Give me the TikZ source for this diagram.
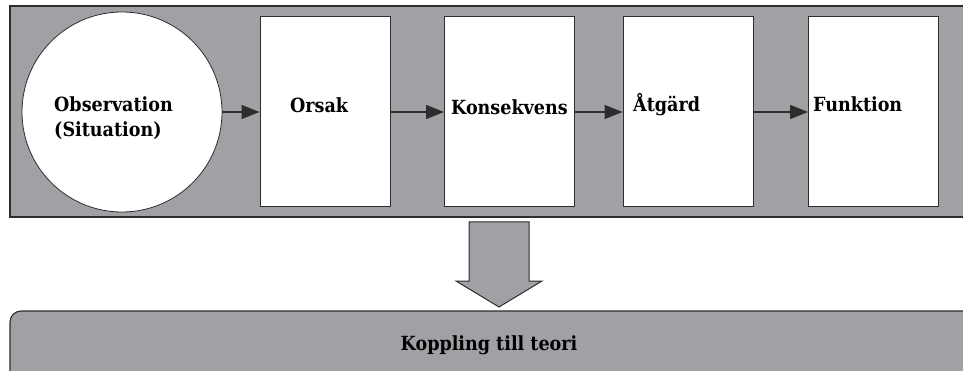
\documentclass[tikz,border=0pt]{standalone}
\usepackage{fontspec}
\setmainfont{DejaVu Serif Condensed}
\usetikzlibrary{arrows.meta}
\definecolor{panelgray}{RGB}{160,160,165}
\definecolor{edgegray}{RGB}{45,45,45}
\begin{document}
\begin{tikzpicture}[x=1pt,y=-1pt,
  panel/.style={draw=edgegray,fill=panelgray,line width=1.1pt},
  stepbox/.style={draw=edgegray,fill=white,line width=1pt,minimum width=130pt,minimum height=190pt,inner sep=0pt},
  stepcircle/.style={draw=edgegray,fill=white,line width=0.8pt,circle,minimum size=200pt,inner sep=0pt},
  label/.style={font=\bfseries\fontsize{19.5}{24}\selectfont,inner sep=0pt,anchor=base west,text=black},
  flow/.style={draw=edgegray,line width=1.2pt,-{Triangle[length=18pt,width=14pt]}}]
  \clip (0,0) rectangle (963,371);
  \fill[white] (0,0) rectangle (963,371);
  % upper panel holding the chain of steps
  \draw[panel] (10,6) rectangle (980,217);
  % chain of steps
  \node[stepcircle] (obs) at (122,112) {};
  \node[stepbox] (orsak) at (325,112) {};
  \node[stepbox] (kons) at (509.5,112) {};
  \node[stepbox] (atg) at (688,112) {};
  \node[stepbox] (funk) at (873.5,112) {};
  \node[label] (obsA) at (54,112) {Observation};
  \node[label] (obsB) at (54,137) {(Situation)};
  \node[label] (orsakT) at (290,113) {Orsak};
  \node[label] (konsT) at (451,115) {Konsekvens};
  \node[label] (atgT) at (633,112) {Åtgärd};
  \node[label] (funkT) at (813,112) {Funktion};
  \draw[flow] (obs.east) -- (orsak.west);
  \draw[flow] (orsak.east) -- (kons.west);
  \draw[flow] (kons.east) -- (atg.west);
  \draw[flow] (atg.east) -- (funk.west);
  % big arrow leading down to the theory bar
  \draw[panel,line width=1pt,line join=miter]
    (469,222) -- (529,222) -- (529,281) -- (542,281) -- (499,307)
    -- (456,281) -- (469,281) -- cycle;
  % theory bar
  \draw[panel,rounded corners=11pt] (10,311) rectangle (985,395);
  \node[label,anchor=base] (theory) at (489,350) {Koppling till teori};
\end{tikzpicture}
\end{document}
